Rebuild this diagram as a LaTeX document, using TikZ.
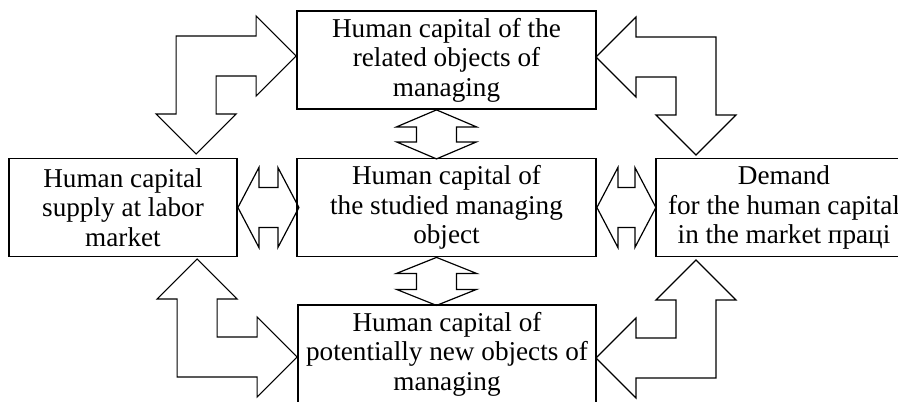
\documentclass[tikz,border=0pt]{standalone}
\usepackage{fontspec}
\setmainfont{Liberation Serif}
\usetikzlibrary{calc}

\begin{document}
\begin{tikzpicture}[
    x=0.5pt, y=-0.5pt,
    every node/.style={font=\fontsize{13.6}{14.8}\selectfont},
    box/.style={draw, line width=0.9pt, align=center, inner sep=0pt, minimum height=49pt},
    blockarrow/.style={draw, line width=0.6pt, line join=miter},
    pics/dblarrow/.style 2 args={code={
        \draw[blockarrow] (0,0) -- (#2,-40) -- (#2,-20) -- (#1-#2,-20) -- (#1-#2,-40)
            -- (#1,0) -- (#1-#2,40) -- (#1-#2,20) -- (#2,20) -- (#2,40) -- cycle;}},
    pics/bentarrow/.style={code={
        \draw[blockarrow] (0,98) -- (40,58) -- (20,58) -- (20,20) -- (60,20) -- (60,40)
            -- (100,0) -- (60,-40) -- (60,-20) -- (-20,-20) -- (-20,58) -- (-40,58) -- cycle;}}
]
\useasboundingbox (0,0) rectangle (898,401);
\node[box, minimum width=149.5pt] (related) at (446.5,60) {Human capital of the\\related objects of\\managing};
\node[box, minimum width=149.5pt] (studied) at (446.5,207.5) {Human capital of\\the studied managing\\object};
\node[box, minimum width=114pt] (supply) at (123,207.5) {Human capital\\supply at labor\\market};
\node[box, minimum width=128pt] (demand) at (784,207.5) {Demand\\for the human capital\\in the market праці};
\node[box, minimum width=149pt] (newobj) at (447,354) {Human capital of\\potentially new objects of\\managing};
\pic at (supply.east) {dblarrow={61}{21}};
\pic at (studied.east) {dblarrow={59}{21}};
\pic[rotate=-90] at ($(related.south)+(-10,0)$) {dblarrow={49}{17}};
\pic[rotate=-90] at ($(studied.south)+(-10,0)$) {dblarrow={48}{16}};
\pic at ($(related.west)+(-100,-4)$) {bentarrow};
\pic[xscale=-1] at ($(related.east)+(99,-3)$) {bentarrow};
\pic[yscale=-1] at ($(newobj.west)+(-100,3)$) {bentarrow};
\pic[xscale=-1, yscale=-1] at ($(newobj.east)+(99,4)$) {bentarrow};
\end{tikzpicture}
\end{document}
